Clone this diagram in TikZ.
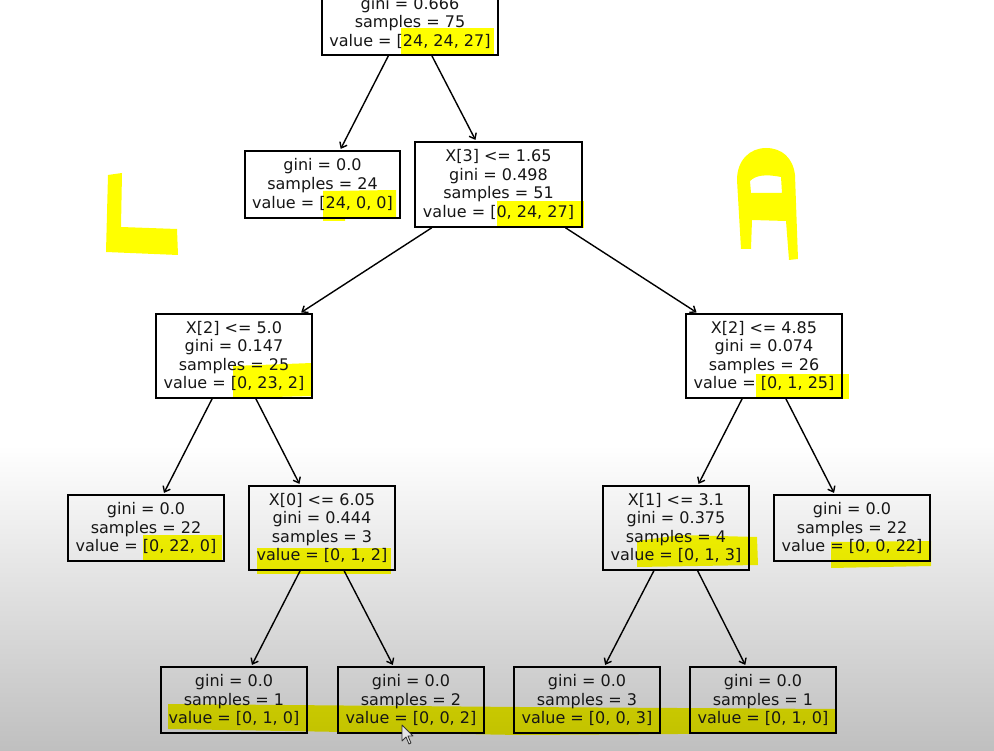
\documentclass[tikz,border=0pt]{standalone}
\usepackage{fontspec}
\setmainfont{DejaVu Sans}
\usetikzlibrary{arrows.meta}
\definecolor{txt}{HTML}{161616}
\definecolor{hl}{HTML}{FFFF00}
\tikzset{
  tn/.style={draw=black, line width=1.5pt, rectangle, align=center, inner sep=0pt,
    font=\fontsize{16}{18.6}\selectfont, text=txt},
  edge/.style={line width=1.4pt, shorten >=1.5pt,
    -{Straight Barb[length=5pt,width=8pt,line width=1.4pt]}},
  hlmark/.style={fill=hl, draw=none}
}
\begin{document}
\begin{tikzpicture}[x=1pt,y=-1pt]
\useasboundingbox (0,0) rectangle (994,751);
\clip (0,0) rectangle (994,751);
% background
\fill[white] (0,0) rectangle (994,446);
\shade[top color=white, bottom color=black!25, draw=none] (0,445) rectangle (994,751);
% highlights
\begin{scope}[blend mode=multiply]
\fill[hlmark] (401,28) rectangle (494,54);
\fill[hlmark] (323,191) -- (396,190) -- (396,217) -- (345,217) -- (345,221) -- (323,221) -- cycle;
\fill[hlmark] (497,201) rectangle (584,228);
\fill[hlmark] (233,366) -- (312,363) -- (312,396) -- (233,398) -- cycle;
\fill[hlmark] (756,374) rectangle (849,399);
\fill[hlmark] (143,535) rectangle (222,560);
\fill[hlmark] (257,548) rectangle (391,574);
\fill[hlmark] (637,541) -- (680,535) -- (757,537) -- (758,565) -- (637,567) -- cycle;
\fill[hlmark] (831,542) -- (931,541) -- (931,566) -- (831,568) -- cycle;
\fill[hlmark] (168,704) -- (520,707) -- (835,709) -- (835,733) -- (520,735) -- (168,729) -- cycle;
% handwritten L
\fill[hlmark] (108,175) -- (122,173) -- (121,227) -- (177,229) -- (178,255) -- (106,252) -- cycle;
% handwritten A
\fill[hlmark, even odd rule] (741,249) -- (737,180) .. controls (737,160) and (750,148) .. (766,148)
  .. controls (782,148) and (793,158) .. (795,175) -- (798,259) -- (789,260) -- (786,221)
  -- (752,220) -- (751,249) -- cycle
  (751,193) -- (750,181) .. controls (756,175) and (766,174) .. (781,177) -- (782,193) -- cycle;
\end{scope}
% nodes
\node[tn, minimum width=176pt, minimum height=83pt] (root) at (410,13.5)
  {\vphantom{X[3]}\\gini = 0.666\\samples = 75\\value = [24, 24, 27]};
\node[tn, minimum width=155pt, minimum height=67pt] (n1) at (322.5,184.5)
  {gini = 0.0\\samples = 24\\value = [24, 0, 0]};
\node[tn, minimum width=167pt, minimum height=85pt] (n2) at (498.5,184.5)
  {X[3] <= 1.65\\gini = 0.498\\samples = 51\\value = [0, 24, 27]};
\node[tn, minimum width=156pt, minimum height=84pt] (n3) at (234,356)
  {X[2] <= 5.0\\gini = 0.147\\samples = 25\\value = [0, 23, 2]};
\node[tn, minimum width=156pt, minimum height=84pt] (n4) at (764,356)
  {X[2] <= 4.85\\gini = 0.074\\samples = 26\\value = [0, 1, 25]};
\node[tn, minimum width=156pt, minimum height=66pt] (n5) at (146,528)
  {gini = 0.0\\samples = 22\\value = [0, 22, 0]};
\node[tn, minimum width=146pt, minimum height=84pt] (n6) at (322,528)
  {X[0] <= 6.05\\gini = 0.444\\samples = 3\\value = [0, 1, 2]};
\node[tn, minimum width=146pt, minimum height=84pt] (n7) at (676,528)
  {X[1] <= 3.1\\gini = 0.375\\samples = 4\\value = [0, 1, 3]};
\node[tn, minimum width=156pt, minimum height=66pt] (n8) at (852,528)
  {gini = 0.0\\samples = 22\\value = [0, 0, 22]};
\node[tn, minimum width=146pt, minimum height=66pt] (n9) at (234,700)
  {gini = 0.0\\samples = 1\\value = [0, 1, 0]};
\node[tn, minimum width=146pt, minimum height=66pt] (n10) at (411,700)
  {gini = 0.0\\samples = 2\\value = [0, 0, 2]};
\node[tn, minimum width=146pt, minimum height=66pt] (n11) at (587,700)
  {gini = 0.0\\samples = 3\\value = [0, 0, 3]};
\node[tn, minimum width=146pt, minimum height=66pt] (n12) at (763,700)
  {gini = 0.0\\samples = 1\\value = [0, 1, 0]};
% edges
\draw[edge] (root) -- (n1);
\draw[edge] (root) -- (n2);
\draw[edge] (n2) -- (n3);
\draw[edge] (n2) -- (n4);
\draw[edge] (n3) -- (n5);
\draw[edge] (n3) -- (n6);
\draw[edge] (n4) -- (n7);
\draw[edge] (n4) -- (n8);
\draw[edge] (n6) -- (n9);
\draw[edge] (n6) -- (n10);
\draw[edge] (n7) -- (n11);
\draw[edge] (n7) -- (n12);
% mouse cursor
\draw[fill=white!90!black, draw=black!80, line width=0.8pt, line join=round]
  (402,725) -- (402,741) -- (406,737) -- (409,744) -- (411,743) -- (408,736) -- (413,736) -- cycle;
\end{tikzpicture}
\end{document}
